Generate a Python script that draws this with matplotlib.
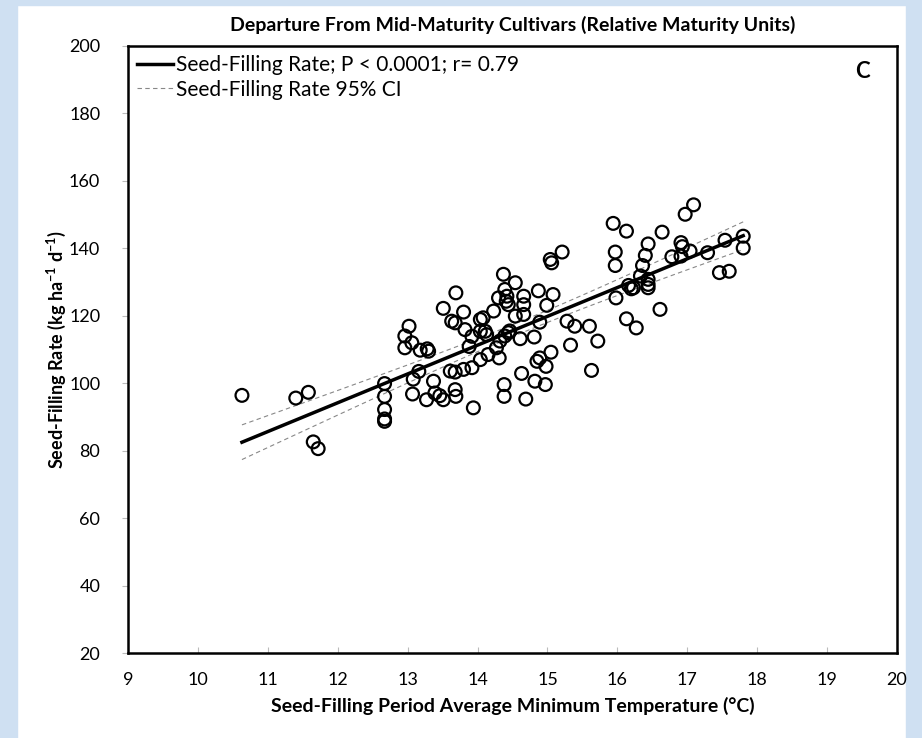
import numpy as np
import matplotlib
matplotlib.use("Agg")
import matplotlib.pyplot as plt
from matplotlib.patches import Rectangle

plt.rcParams['font.family'] = ['Lato', 'DejaVu Sans']

# Seed-filling period average minimum temperature (°C)
temp = [10.63, 11.40, 11.58, 11.65, 11.72,
        12.67, 12.67, 12.67, 12.67, 12.67,
        12.96, 13.02, 12.96, 13.06, 13.18, 13.28, 13.30, 13.08, 13.16, 13.07,
        13.37, 13.27, 13.51, 13.69, 13.80, 13.63, 13.68, 13.82, 13.92, 14.04,
        14.08, 14.04, 14.11, 14.13, 14.23, 14.37, 14.54, 14.30, 14.42, 14.41,
        14.44, 14.39, 14.54, 14.66, 14.66, 14.66, 14.87, 15.08, 14.99, 14.89,
        15.04, 15.06, 15.21, 15.28, 15.39, 15.60, 15.72, 15.33, 14.81, 14.61,
        14.32, 14.39, 14.44, 14.46, 14.27, 14.31, 14.15, 14.04, 13.92, 13.80,
        13.68, 13.61, 13.88, 13.39, 13.46, 13.51, 13.68, 13.69, 13.94, 14.38,
        14.38, 14.69, 14.63, 14.82, 14.97, 14.85, 14.89, 14.98, 15.05, 15.63,
        15.94, 16.13, 15.97, 15.97, 15.98, 16.13, 16.27, 16.16, 16.23, 16.20,
        16.44, 16.40, 16.36, 16.33, 16.44, 16.44, 16.44, 16.64, 16.61, 16.78,
        16.91, 16.91, 16.93, 17.04, 16.97, 17.09, 17.29, 17.54, 17.80, 17.80,
        17.46, 17.60]

# Seed-filling rate (kg ha-1 d-1)
rate = [96.4, 95.6, 97.3, 82.6, 80.6,
        99.9, 96.1, 92.2, 89.4, 88.7,
        110.5, 116.9, 114.0, 112.0, 109.8, 110.2, 109.5, 101.2, 103.5, 96.8,
        100.6, 95.1, 122.2, 126.8, 121.1, 118.4, 117.9, 115.9, 113.9, 118.9,
        119.4, 115.4, 115.4, 114.4, 121.4, 132.3, 129.8, 125.3, 125.8, 124.3,
        123.3, 127.8, 119.9, 125.8, 123.3, 120.4, 127.4, 126.3, 123.1, 118.1,
        136.7, 135.7, 138.9, 118.4, 116.9, 116.9, 112.5, 111.3, 113.7, 113.2,
        112.5, 114.0, 115.0, 115.5, 110.5, 107.5, 108.5, 107.0, 104.6, 104.1,
        103.3, 103.6, 110.9, 97.1, 96.3, 95.1, 98.1, 96.1, 92.7, 99.6,
        96.1, 95.3, 102.9, 100.6, 99.6, 106.5, 107.5, 105.0, 109.2, 103.8,
        147.4, 145.1, 138.9, 134.9, 125.3, 119.1, 116.4, 129.0, 128.3, 128.0,
        141.3, 137.9, 134.9, 131.8, 130.8, 129.3, 128.3, 144.8, 121.9, 137.5,
        141.7, 137.7, 140.5, 139.2, 150.1, 152.9, 138.7, 142.4, 143.6, 140.1,
        132.8, 133.2]

title = "Departure From Mid-Maturity Cultivars (Relative Maturity Units)"
xlabel = "Seed-Filling Period Average Minimum Temperature (°C)"
ylabel = "Seed-Filling Rate (kg ha$^{\\mathregular{-1}}$ d$^{\\mathregular{-1}}$)"
legend_fit = "Seed-Filling Rate; P < 0.0001; r= 0.79"
legend_ci = "Seed-Filling Rate 95% CI"
panel = "C"

x = np.array(temp)
y = np.array(rate)
n = len(x)
b, a = np.polyfit(x, y, 1)
xf = np.linspace(x.min(), x.max(), 100)
yf = a + b * xf
resid = y - (a + b * x)
s = np.sqrt(np.sum(resid ** 2) / (n - 2))
sxx = np.sum((x - x.mean()) ** 2)
se = s * np.sqrt(1.0 / n + (xf - x.mean()) ** 2 / sxx)
tval = 1.98
lo, hi = yf - tval * se, yf + tval * se

fig = plt.figure(figsize=(9.22, 7.38), dpi=100)
fig.patch.set_facecolor("white")
blue = "#cfe0f2"
fig.add_artist(Rectangle((0, 0), 17 / 922, 1, transform=fig.transFigure, color=blue, zorder=0))
fig.add_artist(Rectangle((906 / 922, 0), 16 / 922, 1, transform=fig.transFigure, color=blue, zorder=0))
fig.add_artist(Rectangle((0, 1 - 5 / 738), 1, 5 / 738, transform=fig.transFigure, color=blue, zorder=0))

ax = fig.add_axes([128 / 922, 1 - 653 / 738, (897 - 128) / 922, (653 - 46) / 738])
ax.scatter(x, y, s=85, facecolors="none", edgecolors="black", linewidths=1.6, zorder=3)
ax.plot(xf, yf, color="black", lw=2.5, label=legend_fit, zorder=4)
ax.plot(xf, lo, color="#888888", lw=0.8, ls=(0, (4, 3)), label=legend_ci, zorder=2)
ax.plot(xf, hi, color="#888888", lw=0.8, ls=(0, (4, 3)), zorder=2)

ax.set_xlim(9, 20)
ax.set_ylim(20, 200)
ax.set_xticks(range(9, 21))
ax.set_yticks(range(20, 201, 20))
for sp in ax.spines.values():
    sp.set_linewidth(1.8)
ax.tick_params(axis="y", direction="out", length=4, color="#bbbbbb", labelsize=13, pad=16)
ax.tick_params(axis="x", direction="in", length=4, color="#bbbbbb", labelsize=13, pad=14)

ax.set_xlabel(xlabel, fontsize=14, fontweight="bold", labelpad=6)
ax.set_ylabel(ylabel, fontsize=13, fontweight="bold", labelpad=1)
ax.set_title(title, fontsize=14, fontweight="bold", pad=11)

leg = ax.legend(loc="upper left", frameon=False, fontsize=15, handlelength=1.7,
                handletextpad=0.15, borderaxespad=0.05, labelspacing=0.2,
                bbox_to_anchor=(0.0, 1.0))
ax.text(0.955, 0.975, panel, transform=ax.transAxes, fontsize=16, fontweight="bold",
        ha="center", va="top")

fig.savefig("out.png", dpi=100)
